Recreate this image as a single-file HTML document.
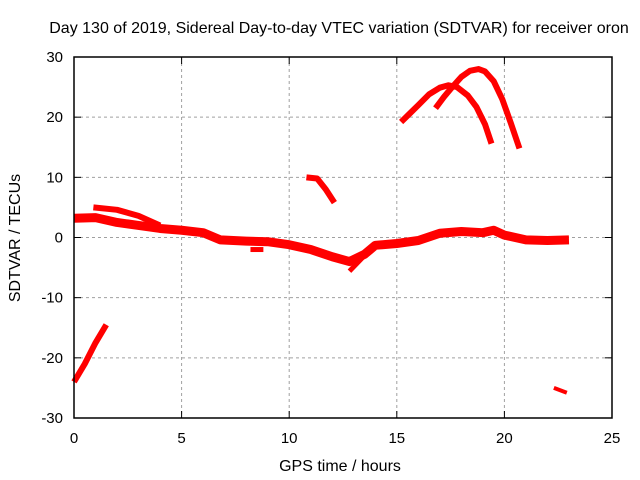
<!DOCTYPE html>
<html><head><meta charset="utf-8"><style>
body{margin:0;background:#fff}
svg{display:block;font-family:"Liberation Sans",sans-serif}
</style></head><body>
<svg id="c" width="640" height="480">
<rect width="640" height="480" fill="#fff"/>
<text x="339" y="33" font-size="16" text-anchor="middle">Day 130 of 2019, Sidereal Day-to-day VTEC variation (SDTVAR) for receiver oron</text>
<text x="340" y="471" font-size="16" text-anchor="middle">GPS time / hours</text>
<text transform="translate(20,238) rotate(-90)" font-size="16" text-anchor="middle">SDTVAR / TECUs</text>
<g id="grid"></g><g id="marks"></g>
<rect x="74" y="57" width="538" height="361" fill="none" stroke="#000" stroke-width="1.5"/>
<g id="ticks"></g>
</svg>
<script>
const xTicks=[0,5,10,15,20,25];
const yTicks=[-30,-20,-10,0,10,20,30];
const mainBand=[[0,3.2],[1,3.3],[2,2.5],[3,2],[4,1.5],[5,1.2],[6,0.8],[6.8,-0.4],[8,-0.6],[9,-0.7],[10,-1.2],[11,-2],[12,-3.2],[12.8,-4],[13.5,-2.8],[14,-1.3],[15,-1],[16,-0.5],[17,0.7],[18,1],[19,0.8],[19.5,1.2],[20,0.4],[21,-0.4],[22,-0.5],[23,-0.4]];
const upperBand=[[0.9,5],[2,4.6],[3,3.6],[4,2]];
const dip=[[8.2,-2],[8.8,-2]];
const branch=[[12.8,-5.6],[13.5,-3]];
const lowArc=[[0,-24],[0.5,-21],[1,-17.5],[1.5,-14.5]];
const midArc=[[10.8,10],[11.3,9.8],[11.7,8],[12.1,5.8]];
const arcA=[[15.2,19.2],[15.6,20.6],[16,22],[16.5,23.8],[17,24.9],[17.4,25.3],[17.8,25],[18.3,23.6],[18.7,21.7],[19.1,18.8],[19.4,15.6]];
const arcB=[[16.8,21.5],[17.2,23.4],[17.6,25.1],[18,26.7],[18.4,27.7],[18.8,28],[19.1,27.6],[19.5,26],[19.9,23],[20.3,19],[20.7,14.8]];
const tail=[[22.3,-25],[22.9,-25.8]];
const series=[[mainBand,9],[upperBand,6],[dip,5],[branch,5],[lowArc,6],[midArc,6],[arcA,6],[arcB,6],[tail,4]];
const X=h=>74+h*538/25, Y=v=>237.5-v*361/60;
const NS="http://www.w3.org/2000/svg";
const g=document.getElementById('grid'),m=document.getElementById('marks'),t=document.getElementById('ticks');
function mk(tag,a,p){const e=document.createElementNS(NS,tag);for(const k in a)e.setAttribute(k,a[k]);p.appendChild(e);return e;}
xTicks.forEach(v=>{const x=X(v);
 if(v>0&&v<25){const l=mk('line',{x1:x,x2:x,y1:57,y2:418,stroke:'#a0a0a0','stroke-dasharray':'3,3'},g);
 
 }
 mk('line',{x1:x,x2:x,y1:418,y2:411,stroke:'#000'},t);mk('line',{x1:x,x2:x,y1:57,y2:64,stroke:'#000'},t);
 const tx=mk('text',{x:x,y:443,'font-size':15,'text-anchor':'middle'},t);tx.textContent=v;
 
 });
yTicks.forEach(v=>{const y=Y(v);
 if(v>-30&&v<30){const l=mk('line',{x1:74,x2:612,y1:y,y2:y,stroke:'#a0a0a0','stroke-dasharray':'3,3'},g);
 
 }
 mk('line',{x1:74,x2:81,y1:y,y2:y,stroke:'#000'},t);mk('line',{x1:612,x2:605,y1:y,y2:y,stroke:'#000'},t);
 const tx=mk('text',{x:63,y:y+5,'font-size':15,'text-anchor':'end'},t);tx.textContent=v;
 
 });
series.forEach(([d,w])=>{
 const p=mk('polyline',{points:d.map(q=>X(q[0])+','+Y(q[1])).join(' '),fill:'none',stroke:'#f00','stroke-width':w,'stroke-linejoin':'round'},m);
 
 });
</script>
</body></html>
